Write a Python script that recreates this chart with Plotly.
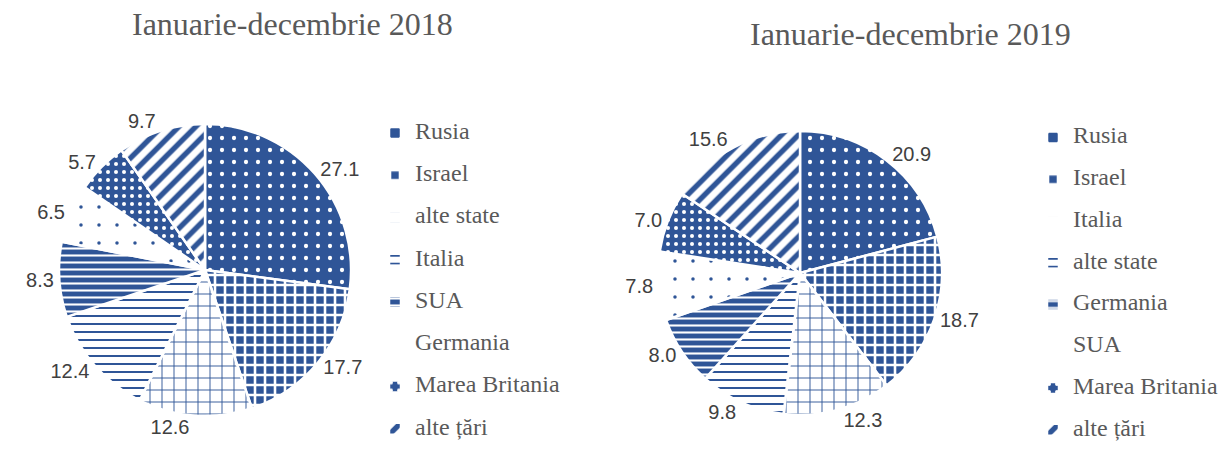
import plotly.graph_objects as go

# Shares (%) by destination country
labels_2018 = ["Rusia", "Israel", "alte state", "Italia", "SUA", "Germania", "Marea Britania", "alte țări"]
values_2018 = [27.1, 17.7, 12.6, 12.4, 8.3, 6.5, 5.7, 9.7]

labels_2019 = ["Rusia", "Israel", "Italia", "alte state", "Germania", "SUA", "Marea Britania", "alte țări"]
values_2019 = [20.9, 18.7, 12.3, 9.8, 8.0, 7.8, 7.0, 15.6]

title_2018 = "Ianuarie-decembrie 2018"
title_2019 = "Ianuarie-decembrie 2019"

BLUE = "#2F5597"
WHITE = "#FFFFFF"

# fill patterns, one per slice position
pat_shape = [".", "+", "+", "-", "-", ".", ".", "/"]
pat_bg = [BLUE, BLUE, WHITE, WHITE, BLUE, WHITE, BLUE, WHITE]
pat_fg = [WHITE, WHITE, BLUE, BLUE, WHITE, BLUE, WHITE, BLUE]
pat_size = [12, 10, 12, 8, 7, 18, 8, 12]
pat_solid = [0.1, 0.45, 0.15, 0.25, 0.3, 0.03, 0.2, 0.45]


def legend_text(names, style):
    # an empty first line spaces the entries; the name is shown larger on the
    # second line. Each legend gets its own style string so the two pies keep
    # separate legend entries.
    return [' <br><span style="%s">%s</span>' % (style, n) for n in names]


def pie(labels, values, domain, legend):
    return go.Pie(
        labels=labels,
        values=values,
        sort=False,
        direction="clockwise",
        rotation=0,
        domain=domain,
        legend=legend,
        texttemplate="%{value:.1f}",
        textposition="outside",
        outsidetextfont=dict(family="Liberation Sans", size=20, color="#404040"),
        hovertemplate="%{value:.1f}<extra></extra>",
        marker=dict(
            colors=pat_bg,
            line=dict(color=WHITE, width=2.5),
            pattern=dict(shape=pat_shape, bgcolor=pat_bg, fgcolor=pat_fg,
                         size=pat_size, solidity=pat_solid, fillmode="replace"),
        ),
    )


fig = go.Figure()
fig.add_trace(pie(legend_text(labels_2018, "font-size:24px"), values_2018,
                  dict(x=[0.0484, 0.288], y=[0.0796, 0.7257]), "legend"))
fig.add_trace(pie(legend_text(labels_2019, "font-size:24px;"), values_2019,
                  dict(x=[0.5398, 0.7728], y=[0.0819, 0.7102]), "legend2"))

legend_common = dict(
    valign="bottom",
    itemwidth=30,
    bgcolor="rgba(0,0,0,0)",
    xanchor="left",
    yanchor="top",
)
fig.update_layout(
    width=1219,
    height=452,
    margin=dict(l=0, r=0, t=0, b=0, autoexpand=False),
    paper_bgcolor="white",
    plot_bgcolor="white",
    showlegend=True,
    legend=dict(x=375 / 1219, y=1 - 97 / 452,
                font=dict(family="Liberation Serif", size=15.1, color="#595959"),
                **legend_common),
    legend2=dict(x=1033 / 1219, y=1 - 102 / 452,
                 font=dict(family="Liberation Serif", size=14.9, color="#595959"),
                 **legend_common),
    annotations=[
        dict(text=title_2018, x=292 / 1219, y=1 - 24 / 452, xref="paper", yref="paper",
             showarrow=False, xanchor="center", yanchor="middle",
             font=dict(family="Liberation Serif", size=32, color="#595959")),
        dict(text=title_2019, x=910 / 1219, y=1 - 34 / 452, xref="paper", yref="paper",
             showarrow=False, xanchor="center", yanchor="middle",
             font=dict(family="Liberation Serif", size=32, color="#595959")),
    ],
)

fig.write_html("out.html")
